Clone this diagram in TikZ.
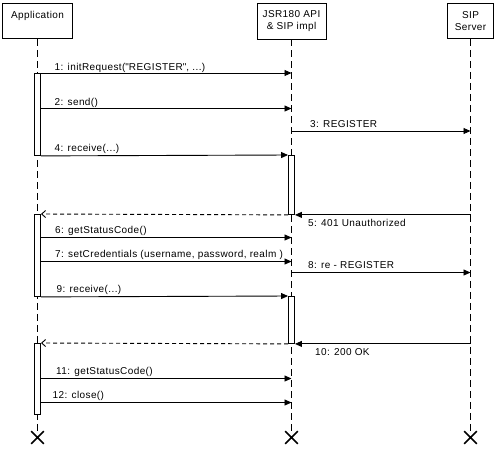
\documentclass[tikz,border=0pt]{standalone}
\usepackage{fontspec}
\setmainfont{Liberation Sans}[LetterSpace=4]
\usepackage{tikz}
\usetikzlibrary{arrows.meta, positioning, shapes.misc}

\begin{document}
\begin{tikzpicture}[x=1pt, y=-1pt, font=\fontsize{10pt}{11.5pt}\selectfont,
    lane/.style={draw, line width=0.9pt, anchor=north, minimum height=35pt,
      inner xsep=2pt, inner ysep=7.5pt, align=center},
    lifeline/.style={line width=0.9pt, dash pattern=on 7pt off 4pt},
    bar/.style={draw, fill=white, line width=0.9pt, anchor=north,
      minimum width=6pt, inner sep=0pt},
    call/.style={line width=0.9pt, -{Triangle[length=7pt, width=6pt]}},
    reply/.style={line width=0.9pt, dash pattern=on 4pt off 3pt,
      -{Straight Barb[length=4pt, width=7pt]}},
    msglabel/.style={anchor=base west, inner sep=0pt},
    destroy/.style={cross out, draw, line width=1.6pt, minimum size=11pt,
      inner sep=0pt} ]
    \useasboundingbox (0,0) rectangle (497,448);

    % Participants
    \node[lane, minimum width=70pt, text depth=12.5pt] (app) at (37.5,3)
    {Application}; \node[lane, minimum width=69pt] (jsr) at (291.5,3)
    {JSR180 API\\\& SIP impl}; \node[lane, minimum width=46pt] (sip) at
    (470.5,3) {SIP\\Server};

    % End of life
    \node[destroy] (appEnd) at (37.5,437.5) {}; \node[destroy] (jsrEnd) at
    (291.5,437.5) {}; \node[destroy] (sipEnd) at (470.5,437.5) {};

    % Lifelines
    \draw[lifeline] (app) -- (appEnd); \draw[lifeline] (jsr) -- (jsrEnd);
    \draw[lifeline] (sip) -- (sipEnd);

    % Activation bars
    \node[bar, minimum height=82pt] (appAct1) at (37.5,73) {};
    \node[bar, minimum height=82pt] (appAct2) at (37.5,214) {};
    \node[bar, minimum height=71pt] (appAct3) at (37.5,343) {};
    \node[bar, minimum height=59pt] (jsrAct1) at (291.5,155) {};
    \node[bar, minimum height=47pt] (jsrAct2) at (291.5,296) {};

    % Message starts
    \coordinate (send) at (40.5,108.5); \coordinate (register) at
    (291.5,131); \coordinate (status) at (40.5,237.5); \coordinate (creds) at
    (40.5,261.5); \coordinate (reregister) at (291.5,272.5); \coordinate
    (status2) at (40.5,378.5); \coordinate (close) at (40.5,402.5);

    % First attempt
    \draw[call] (appAct1.north east) -- (appAct1.north east -| jsr);
    \draw[call] (send) -- (send -| jsr);
    \draw[call] (register) -- (register -| sip);
    \draw[call] (appAct1.south east) -- (jsrAct1.north west);
    \draw[call] (jsrAct1.south east -| sip) -- (jsrAct1.south east);
    \draw[reply] (jsrAct1.south west) -- (appAct2.north east);

    % Second attempt with credentials
    \draw[call] (status) -- (status -| jsr);
    \draw[call] (creds) -- (creds -| jsr);
    \draw[call] (reregister) -- (reregister -| sip);
    \draw[call] (appAct2.south east) -- (jsrAct2.north west);
    \draw[call] (jsrAct2.south east -| sip) -- (jsrAct2.south east);
    \draw[reply] (jsrAct2.south west) -- (appAct3.north east);

    % Done
    \draw[call] (status2) -- (status2 -| jsr);
    \draw[call] (close) -- (close -| jsr);

    % Message labels
    \node[msglabel] (l1) at (54.5,70)
    {1: initRequest(\textquotedbl REGISTER\textquotedbl, ...)};
    \node[msglabel] (l2) at (54.5,105) {2: send()};
    \node[msglabel] (l3) at (310,127) {3: REGISTER};
    \node[msglabel] (l4) at (54.5,151) {4: receive(...)};
    \node[msglabel] (l5) at (308,226) {5: 401 Unauthorized};
    \node[msglabel] (l6) at (55,233.5) {6: getStatusCode()};
    \node[msglabel] (l7) at (55,257)
    {7: setCredentials (username, password, realm )};
    \node[msglabel] (l8) at (308,268.5) {8: re - REGISTER};
    \node[msglabel] (l9) at (56.5,292) {9: receive(...)};
    \node[msglabel] (l10) at (315,355) {10: 200 OK};
    \node[msglabel] (l11) at (56,374.5) {11: getStatusCode()};
    \node[msglabel] (l12) at (52.5,398.5) {12: close()};

    \end{tikzpicture}
\end{document}
